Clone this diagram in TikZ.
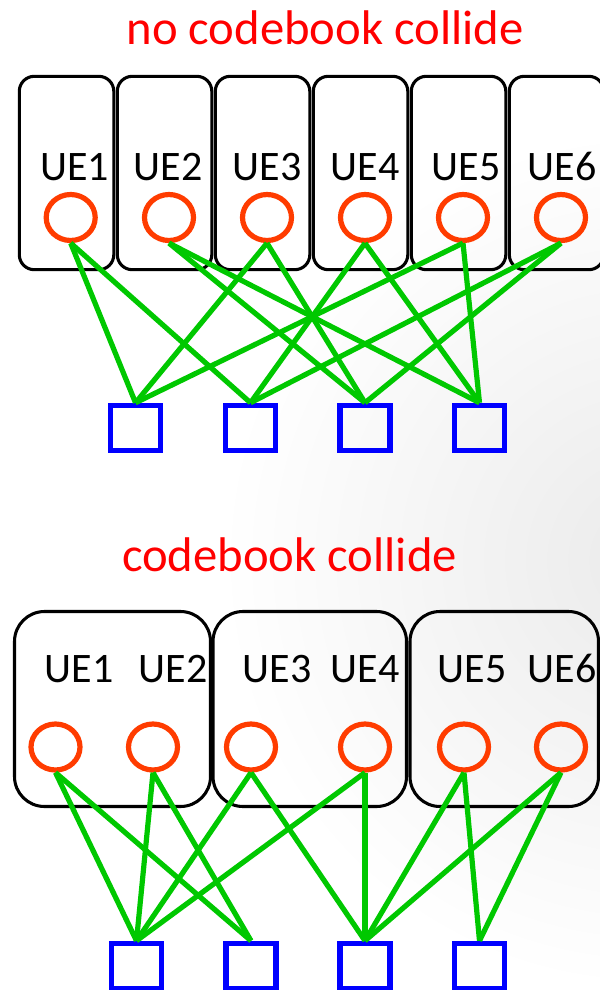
\documentclass[tikz,border=0pt]{standalone}
\usepackage{fontspec}
\setmainfont{Carlito}
\usetikzlibrary{shapes.geometric}
\definecolor{uered}{RGB}{255,60,0}
\definecolor{linkgreen}{RGB}{0,200,0}
\definecolor{resblue}{RGB}{0,0,255}
\definecolor{titlered}{RGB}{255,0,0}

\begin{document}
\begin{tikzpicture}[x=0.75pt,y=-0.75pt,
  ue/.style={ellipse, draw=uered, line width=3.9pt, minimum width=36.75pt,
    minimum height=34.5pt, inner sep=0pt},
  res/.style={rectangle, draw=resblue, line width=4.1pt, minimum width=37.5pt,
    minimum height=33.75pt, inner sep=0pt},
  link/.style={draw=linkgreen, line width=3.9pt},
  grp/.style={draw=black, line width=2.3pt},
  uelabel/.style={anchor=base, inner sep=0pt,
    font=\fontsize{31.5pt}{36pt}\selectfont},
  heading/.style={anchor=base, inner sep=0pt, text=titlered,
    font=\fontsize{36.5pt}{42pt}\selectfont}]

% canvas and soft slide background
\useasboundingbox (0,0) rectangle (600,990);
\fill[white] (0,0) rectangle (600,990);
\begin{scope}
  \clip (0,0) rectangle (600,990);
  \shade[inner color=black!8, outer color=white] (650,560) circle (430);
\end{scope}

% ---------------- upper part: no codebook collide ----------------
\node[heading] (t1) at (325,44) {no codebook collide};

\foreach \i in {0,...,5}
  \draw[grp, rounded corners=11.25pt]
    ({19.3+98*\i},76.3) rectangle ({113.8+98*\i},269.7);

\foreach \x/\n in {74.5/1,168/2,267/3,365/4,466/5,562/6}
  \node[uelabel] (la\n) at (\x,180) {UE\n};

\foreach \x/\n in {70.7/1,169/2,267/3,365/4,463/5,561/6}
  \node[ue] (a\n) at (\x,217.5) {};

\foreach \x/\n in {135.5/1,250.5/2,365/3,479.5/4}
  \node[res] (r\n) at (\x,428) {};

\foreach \u/\r in {1/1,1/2,2/3,2/4,3/1,3/3,4/2,4/4,5/1,5/4,6/2,6/3}
  \draw[link] (a\u.south) -- (r\r.north);

% ---------------- lower part: codebook collide ----------------
\node[heading] (t2) at (289.5,571) {codebook collide};

\draw[grp, rounded corners=22.5pt] (14.5,611.5) rectangle (210.5,806.5);
\draw[grp, rounded corners=22.5pt] (213,611.5) rectangle (406.5,806.5);
\draw[grp, rounded corners=22.5pt] (410,611.5) rectangle (598.5,806.5);

\foreach \x/\n in {79/1,173/2,277/3,365/4,472/5,562/6}
  \node[uelabel] (lb\n) at (\x,682) {UE\n};

\foreach \x/\n in {55.5/1,153/2,251/3,365/4,464/5,561/6}
  \node[ue] (b\n) at (\x,747) {};

\foreach \x/\n in {136.5/1,251/2,365/3,479.5/4}
  \node[res] (s\n) at (\x,966) {};

\foreach \u/\r in {1/1,1/2,2/1,2/2,3/1,3/3,4/1,4/3,5/3,5/4,6/3,6/4}
  \draw[link] (b\u.south) -- (s\r.north);
\end{tikzpicture}
\end{document}
